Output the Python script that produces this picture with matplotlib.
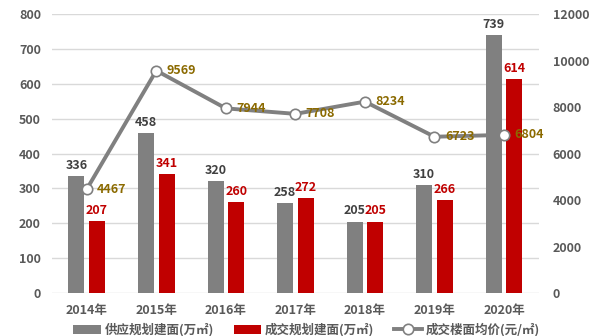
import numpy as np
import matplotlib.pyplot as plt

plt.rcParams['font.family'] = ['Noto Sans CJK SC', 'DejaVu Sans']

# 数据
years = ['2014年', '2015年', '2016年', '2017年', '2018年', '2019年', '2020年']
supply = [336, 458, 320, 258, 205, 310, 739]
deal = [207, 341, 260, 272, 205, 266, 614]
price = [4467, 9569, 7944, 7708, 8234, 6723, 6804]

gray = '#808080'
red = '#C00000'
gold = '#8B6A00'
txt = '#595959'

fig = plt.figure(figsize=(6.01, 3.36), dpi=100)
ax = fig.add_axes([0.0865, 0.128, 0.81, 0.83])
ax2 = ax.twinx()

x = np.arange(len(years))
w = 0.23
off = 0.148

b1 = ax.bar(x - off, supply, width=w, color=gray, label='供应规划建面(万㎡)', zorder=2)
b2 = ax.bar(x + off, deal, width=w, color=red, label='成交规划建面(万㎡)', zorder=2)

for xi, v in zip(x, supply):
    ax.text(xi - off, v + 12, str(v), ha='center', va='bottom', fontsize=9,
            fontweight='bold', color='#404040')
for xi, v in zip(x, deal):
    ax.text(xi + off, v + 12, str(v), ha='center', va='bottom', fontsize=9,
            fontweight='bold', color=red)

ln, = ax2.plot(x, price, color=gray, lw=2.8, marker='o', ms=7.5,
               mfc='white', mec=gray, mew=1.2, label='成交楼面均价(元/㎡)', zorder=3)
for xi, v in zip(x, price):
    ax2.text(xi + 0.15, v, str(v), ha='left', va='center', fontsize=9,
             fontweight='bold', color=gold)

ax.set_xlim(-0.5, 6.5)
ax.set_ylim(0, 800)
ax.set_yticks(range(0, 801, 100))
ax2.set_ylim(0, 12000)
ax2.set_yticks(range(0, 12001, 2000))
ax.set_xticks(x)
ax.set_xticklabels(years)

ax.grid(axis='y', color='#D9D9D9', lw=1, zorder=0)
ax.set_axisbelow(True)
for a in (ax, ax2):
    for s in a.spines.values():
        s.set_visible(False)
    a.tick_params(length=0, colors=txt, labelsize=9)
    for lab in a.get_yticklabels() + a.get_xticklabels():
        lab.set_fontweight('bold')
ax.tick_params(axis='y', pad=8)
ax2.tick_params(axis='y', pad=10)
ax.tick_params(axis='x', pad=8)

leg = fig.legend(handles=[b1, b2, ln], loc='lower center', ncol=3,
                 bbox_to_anchor=(0.51, -0.035), frameon=False, fontsize=9,
                 handlelength=2.2, columnspacing=1.6, handletextpad=0.3)
for t in leg.get_texts():
    t.set_color(txt)
    t.set_fontweight('bold')

fig.savefig('out.png', dpi=100)
